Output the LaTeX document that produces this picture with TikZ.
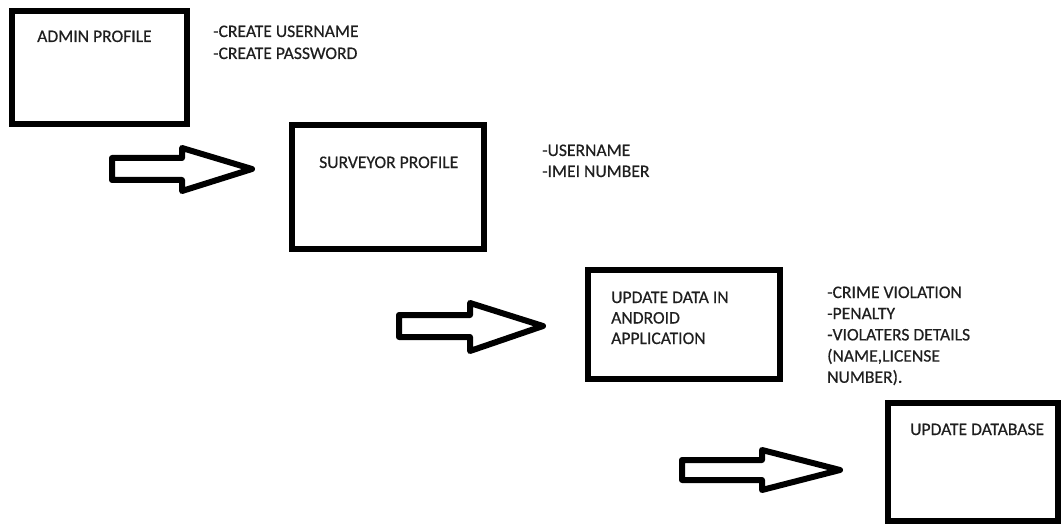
\documentclass[tikz,border=0pt]{standalone}
\usepackage{fontspec}
\setmainfont{Carlito}
\newfontfamily\labelfont{Carlito}[FakeBold=0.5]
\begin{document}
\begin{tikzpicture}[x=1pt,y=-1pt,
  stagebox/.style={draw=black,line width=6pt,line join=miter,rectangle,inner sep=0pt},
  caption/.style={anchor=base west,inner sep=0pt,text=black!88,font=\labelfont\fontsize{17.6}{21}\selectfont},
  blockarrow/.style={draw=black,line width=6pt,line join=round,fill=white}]
\useasboundingbox (0,0) rectangle (1061,524);
\clip (0,0) rectangle (1061,524);
\newcommand{\stack}[2]{\vtop{\baselineskip=#1pt\relax #2}}

% stage boxes
\node[stagebox,minimum width=175pt,minimum height=113pt] (admin) at (99.5,67.5) {};
\node[stagebox,minimum width=192pt,minimum height=124pt] (surveyor) at (388,187) {};
\node[stagebox,minimum width=192pt,minimum height=109pt] (update) at (684,324.5) {};
\node[stagebox,minimum width=170pt,minimum height=118pt] (database) at (973,462) {};

% box titles
\node[caption] (admintitle) at (37,42) {ADMIN PROFILE};
\node[caption] (surveyortitle) at (319,168) {SURVEYOR PROFILE};
\node[caption] (updatetitle) at (611,303)
  {\stack{20.5}{\hbox{UPDATE DATA IN}\hbox{ANDROID}\hbox{APPLICATION}}};
\node[caption] (databasetitle) at (910,435) {UPDATE DATABASE};

% detail lists
\node[caption] (adminlist) at (213,37)
  {\stack{22}{\hbox{-CREATE USERNAME}\hbox{-CREATE PASSWORD}}};
\node[caption] (surveyorlist) at (542,156)
  {\stack{21}{\hbox{-USERNAME}\hbox{-IMEI NUMBER}}};
\node[caption] (updatelist) at (827,298)
  {\stack{21.2}{\hbox{-CRIME VIOLATION}\hbox{-PENALTY}\hbox{-VIOLATERS DETAILS}\hbox{(NAME,LICENSE}\hbox{NUMBER).}}};

% block arrows between stages
\draw[blockarrow] (112,158) -- (182,158) -- (182,148) -- (252,169) -- (182,191) -- (182,180) -- (112,180) -- cycle;
\draw[blockarrow] (399,315) -- (470,315) -- (470,303) -- (543,326) -- (470,351) -- (470,337) -- (399,337) -- cycle;
\draw[blockarrow] (682,460) -- (762,460) -- (762,450) -- (840,470) -- (762,490) -- (762,480) -- (682,480) -- cycle;
\end{tikzpicture}
\end{document}
